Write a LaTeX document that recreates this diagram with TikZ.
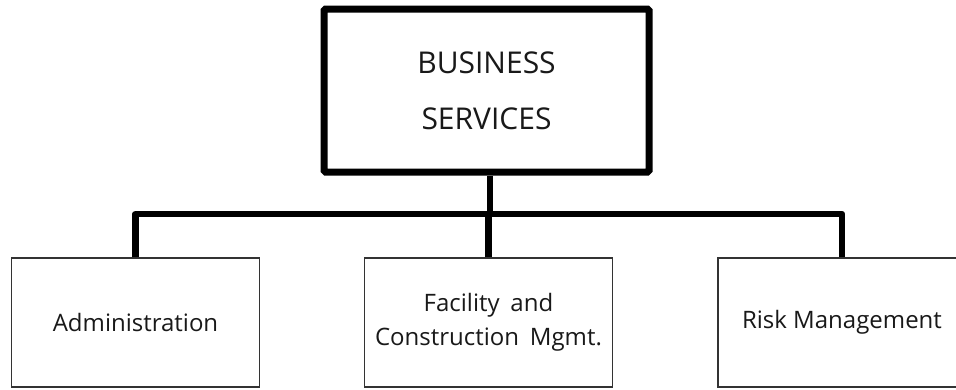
\documentclass[tikz,border=0pt]{standalone}
\usepackage{fontspec}
\setmainfont{Open Sans}
\begin{document}
\begin{tikzpicture}[x=1pt,y=-1pt,
  topbox/.style={draw=black, line width=7pt, rounded corners=1.5pt, minimum width=325pt, minimum height=163pt, inner sep=0pt, align=center, text=black!90, font=\fontsize{30}{56}\selectfont},
  unitbox/.style={draw=black!80, line width=1.4pt, minimum width=248pt, minimum height=129pt, inner sep=0pt, align=center, text=black!90, font=\fontsize{24}{34}\selectfont},
  bus/.style={draw=black, line width=6.5pt, line join=round}]
\clip (0,0) rectangle (956,389);
\fill[white] (0,0) rectangle (956,389);
\node[topbox] (top) at (486.5,90.5) {BUSINESS\\SERVICES};
\node[unitbox] (adm) at (135.5,322.5) {Administration};
\node[unitbox] (fac) at (488.5,322.5) {Facility\hspace{0.45em}and\\Construction\hspace{0.45em}Mgmt.};
\node[unitbox] (risk) at (842,322.5) {Risk Management};
\coordinate (busy) at (0,214);
\draw[bus] (adm.north) -- (adm.north |- busy) -- (risk.north |- busy) -- (risk.north);
\draw[bus] (top.south -| 490,0) -- (490,214);
\draw[bus] (fac.north) -- (fac.north |- busy);
\end{tikzpicture}
\end{document}
